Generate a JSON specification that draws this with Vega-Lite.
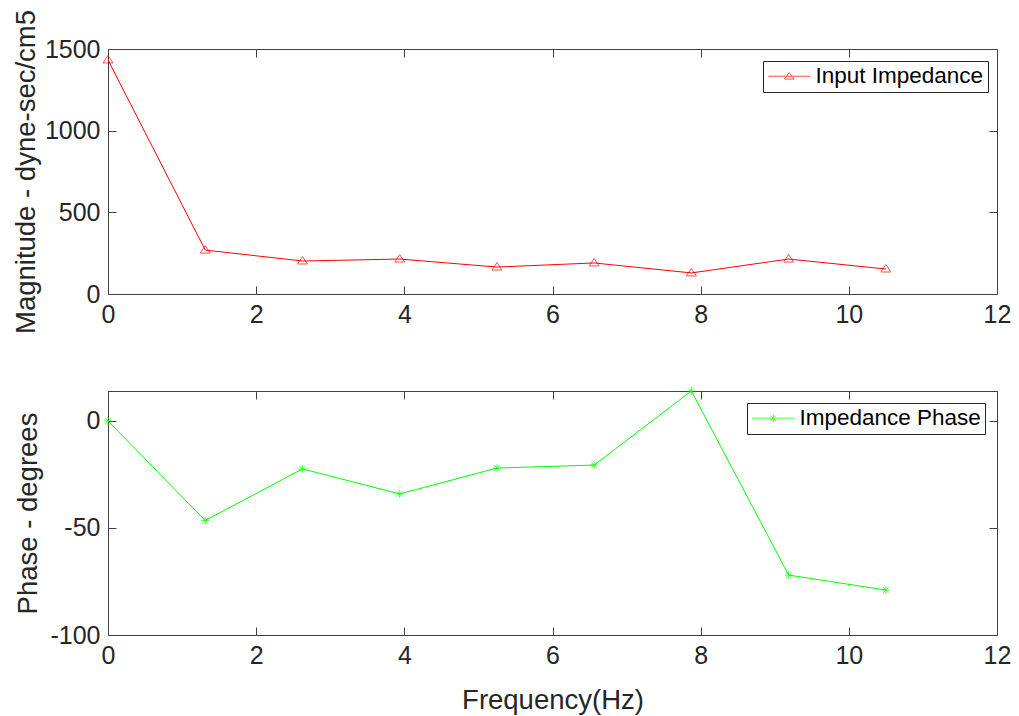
{
  "$schema": "https://vega.github.io/schema/vega-lite/v6.json",
  "background": "white",
  "padding": {"left": 11, "top": 8, "right": 5, "bottom": 5},
  "spacing": 49,
  "resolve": {"scale": {"color": "independent"}, "legend": {"color": "independent"}},
  "datasets": {
    "mag": [
      {"freq": 0, "magnitude": 1433, "series": "Input Impedance"},
      {"freq": 1.3125, "magnitude": 269, "series": "Input Impedance"},
      {"freq": 2.625, "magnitude": 202, "series": "Input Impedance"},
      {"freq": 3.9375, "magnitude": 214, "series": "Input Impedance"},
      {"freq": 5.25, "magnitude": 165, "series": "Input Impedance"},
      {"freq": 6.5625, "magnitude": 190, "series": "Input Impedance"},
      {"freq": 7.875, "magnitude": 129, "series": "Input Impedance"},
      {"freq": 9.1875, "magnitude": 214, "series": "Input Impedance"},
      {"freq": 10.5, "magnitude": 153, "series": "Input Impedance"}
    ],
    "phase": [
      {"freq": 0, "phase": 0, "series": "Impedance Phase"},
      {"freq": 1.3125, "phase": -46.5, "series": "Impedance Phase"},
      {"freq": 2.625, "phase": -22.4, "series": "Impedance Phase"},
      {"freq": 3.9375, "phase": -34.1, "series": "Impedance Phase"},
      {"freq": 5.25, "phase": -22.0, "series": "Impedance Phase"},
      {"freq": 6.5625, "phase": -20.6, "series": "Impedance Phase"},
      {"freq": 7.875, "phase": 14, "series": "Impedance Phase"},
      {"freq": 9.1875, "phase": -72.0, "series": "Impedance Phase"},
      {"freq": 10.5, "phase": -79.0, "series": "Impedance Phase"}
    ]
  },
  "vconcat": [
    {
      "width": 889,
      "height": 245,
      "data": {"name": "mag"},
      "layer": [
        {
          "mark": {"type": "line", "strokeWidth": 1, "clip": false},
          "encoding": {
            "x": {"field": "freq", "type": "quantitative", "scale": {"domain": [0, 12], "nice": false, "zero": false},
                  "axis": {"orient": "bottom", "title": null, "values": [0, 2, 4, 6, 8, 10, 12]}},
            "y": {"field": "magnitude", "type": "quantitative", "scale": {"domain": [0, 1500], "nice": false},
                  "axis": {"orient": "left", "title": "Magnitude - dyne-sec/cm5", "values": [0, 500, 1000, 1500], "labelExpr": "datum.value + ''", "titleX": -73.5, "titleBaseline": "alphabetic"}},
            "color": {"field": "series", "type": "nominal", "scale": {"range": ["#FF0000"]},
                      "legend": {"legendX": 655, "legendY": 12, "symbolType": "M-2.1,0H2.1M0,-0.37L0.48,0.28L-0.48,0.28Z", "symbolSize": 400, "symbolOffset": 11, "labelOffset": 15, "symbolFillColor": "transparent", "symbolStrokeColor": "#FF0000"}}
          }
        },
        {
          "mark": {"type": "point", "shape": "M0,-0.9L1,0.6L-1,0.6Z", "size": 100, "filled": false, "strokeWidth": 1, "clip": false},
          "encoding": {
            "x": {"field": "freq", "type": "quantitative", "axis": {"orient": "top", "labels": false, "title": null, "values": [0, 2, 4, 6, 8, 10, 12]}},
            "y": {"field": "magnitude", "type": "quantitative", "axis": {"orient": "right", "labels": false, "title": null, "values": [0, 500, 1000, 1500]}},
            "color": {"field": "series", "type": "nominal"}
          }
        }
      ],
      "resolve": {"axis": {"x": "independent", "y": "independent"}}
    },
    {
      "width": 889,
      "height": 244,
      "data": {"name": "phase"},
      "layer": [
        {
          "mark": {"type": "line", "strokeWidth": 1, "clip": false},
          "encoding": {
            "x": {"field": "freq", "type": "quantitative", "scale": {"domain": [0, 12], "nice": false, "zero": false},
                  "axis": {"orient": "bottom", "title": "Frequency(Hz)", "values": [0, 2, 4, 6, 8, 10, 12], "titleY": 73, "titleBaseline": "alphabetic"}},
            "y": {"field": "phase", "type": "quantitative", "scale": {"domain": [-100, 14], "nice": false, "zero": false},
                  "axis": {"orient": "left", "title": "Phase - degrees", "values": [-100, -50, 0], "labelExpr": "datum.value + ''", "titleX": -71.3, "titleBaseline": "alphabetic"}},
            "color": {"field": "series", "type": "nominal", "scale": {"range": ["#00FF00"]},
                      "legend": {"legendX": 639, "legendY": 12, "symbolType": "M-2.1,0H2.1M0,-0.38V0.38M-0.27,-0.27L0.27,0.27M-0.27,0.27L0.27,-0.27", "symbolSize": 400, "symbolOffset": 11, "labelOffset": 15, "symbolFillColor": "transparent", "symbolStrokeColor": "#00FF00"}}
          }
        },
        {
          "mark": {"type": "point", "shape": "M-1,0H1M0,-1V1M-0.7,-0.7L0.7,0.7M-0.7,0.7L0.7,-0.7", "size": 64, "filled": false, "strokeWidth": 1, "clip": false},
          "encoding": {
            "x": {"field": "freq", "type": "quantitative", "axis": {"orient": "top", "labels": false, "title": null, "values": [0, 2, 4, 6, 8, 10, 12]}},
            "y": {"field": "phase", "type": "quantitative", "axis": {"orient": "right", "labels": false, "title": null, "values": [-100, -50, 0]}},
            "color": {"field": "series", "type": "nominal"}
          }
        }
      ],
      "resolve": {"axis": {"x": "independent", "y": "independent"}}
    }
  ],
  "config": {
    "view": {"stroke": "#404040", "strokeWidth": 1},
    "axis": {
      "labelFont": "Liberation Sans", "titleFont": "Liberation Sans",
      "labelFontSize": 25, "titleFontSize": 27.5,
      "labelColor": "#262626", "titleColor": "#262626", "titleFontWeight": "normal",
      "tickColor": "#404040", "tickSize": -8, "tickWidth": 1,
      "domain": false, "grid": false, "labelPadding": 16,
      "labelFlush": false, "labelOverlap": false
    },
    "legend": {
      "orient": "none", "title": null,
      "labelFont": "Liberation Sans", "labelFontSize": 22.5, "labelColor": "#000000", "labelLimit": 400,
      "strokeColor": "#262626", "fillColor": "white", "padding": 4,
      "symbolStrokeWidth": 1
    }
  }
}
